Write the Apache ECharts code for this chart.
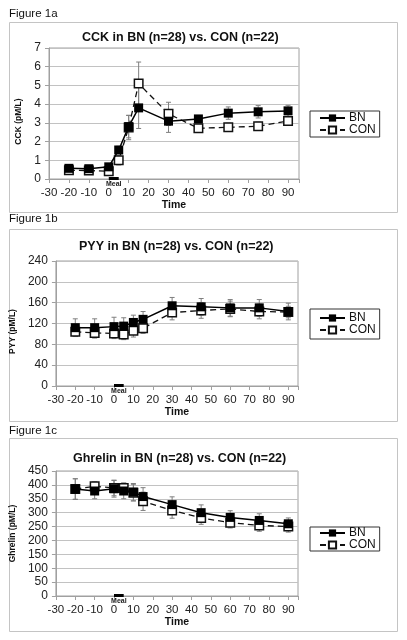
<!DOCTYPE html>
<html><head><meta charset="utf-8">
<script src="https://cdn.jsdelivr.net/npm/echarts@6/dist/echarts.min.js"></script>
<style>html,body{margin:0;padding:0;background:#fff}#c{width:407px;height:640px}</style>
</head><body><div id="c"></div>
<script>
// ---- data ----
const times = [-20, -10, 0, 5, 10, 15, 30, 45, 60, 75, 90];
const seriesNames = ['BN', 'CON'];
const xTicks = [-30, -20, -10, 0, 10, 20, 30, 40, 50, 60, 70, 80, 90];
const mealWindow = [0, 5];
const mealLabel = 'Meal';
const xName = 'Time';

const figureLabels = ['Figure 1a', 'Figure 1b', 'Figure 1c'];
const titles = ['CCK in BN (n=28) vs. CON (n=22)', 'PYY in BN (n=28) vs. CON (n=22)', 'Ghrelin in BN (n=28) vs. CON (n=22)'];
const yNames = ['CCK (pM/L)', 'PYY (pM/L)', 'Ghrelin (pM/L)'];
const yMaxes = [7, 240, 450];
const yIntervals = [1, 40, 50];

const cckBN     = [0.57, 0.55, 0.65, 1.55, 2.80, 3.80, 3.09, 3.21, 3.52, 3.59, 3.64];
const cckBNerr  = [0.10, 0.10, 0.12, 0.20, 0.60, 1.10, 0.60, 0.18, 0.33, 0.33, 0.30];
const cckCON    = [0.47, 0.45, 0.42, 1.00, 2.75, 5.10, 3.48, 2.71, 2.76, 2.82, 3.10];
const cckCONerr = [0.08, 0.08, 0.08, 0.25, 0.65, 1.15, 0.62, 0.20, 0.22, 0.22, 0.20];

const pyyBN     = [112, 112, 114, 115, 122, 128, 154, 152, 150, 150, 143];
const pyyBNerr  = [17, 17, 18, 16, 14, 15, 16, 16, 16, 16, 16];
const pyyCON    = [104, 102, 101, 99, 106, 111, 141, 145, 148, 143, 142];
const pyyCONerr = [9, 10, 10, 10, 12, 10, 14, 15, 15, 14, 11];

const ghrBN     = [385, 378, 386, 378, 374, 358, 329, 300, 283, 272, 260];
const ghrBNerr  = [37, 28, 30, 28, 31, 32, 28, 28, 24, 24, 21];
const ghrCON    = [385, 395, 389, 389, 372, 341, 308, 281, 264, 254, 250];
const ghrCONerr = [37, 16, 28, 18, 30, 33, 28, 23, 19, 21, 20];

const panelData = [
  [cckBN, cckBNerr, cckCON, cckCONerr],
  [pyyBN, pyyBNerr, pyyCON, pyyCONerr],
  [ghrBN, ghrBNerr, ghrCON, ghrCONerr]
];

// ---- layout (styles only) ----
const layout = [
  {figY: 15, box: [9, 22, 388, 190], titleLeft: 82, titleTop: 31, grid: {left: 49, top: 48, width: 250, height: 131}, xMax: 95.5, nameGap: 26, legendTop: 111, legendPad: [1, 4, 1, 9], lh: 11},
  {figY: 220, box: [9, 229, 388, 192], titleLeft: 79, titleTop: 240, grid: {left: 52, top: 261, width: 246, height: 125}, xMax: 95, nameGap: 28, legendTop: 309, legendPad: [3, 4, 3, 9], lh: 11},
  {figY: 432, box: [9, 438, 388, 193], titleLeft: 73, titleTop: 452, grid: {left: 51, top: 471, width: 247, height: 125}, xMax: 95, nameGap: 26, legendTop: 527, legendPad: [0, 4, 0, 9], lh: 10}
];

const FONT = '"Liberation Sans", Arial, sans-serif';
const GRID_GRAY = '#c2c2c2';
const AXIS_GRAY = '#a0a0a0';

function errItem(params, api) {
  const x = api.value(0), lo = api.value(1), hi = api.value(2);
  const a = api.coord([x, lo]), b = api.coord([x, hi]);
  const w = 2.5;
  const st = {stroke: '#7f7f7f', lineWidth: 1};
  return {type: 'group', children: [
    {type: 'line', shape: {x1: a[0], y1: a[1], x2: b[0], y2: b[1]}, style: st},
    {type: 'line', shape: {x1: a[0] - w, y1: a[1], x2: a[0] + w, y2: a[1]}, style: st},
    {type: 'line', shape: {x1: b[0] - w, y1: b[1], x2: b[0] + w, y2: b[1]}, style: st}
  ]};
}

function mealItem(params, api) {
  const a = api.coord([api.value(0), 0]), b = api.coord([api.value(1), 0]);
  return {type: 'group', children: [
    {type: 'rect', shape: {x: a[0], y: a[1] - 2, width: b[0] - a[0], height: 3}, style: {fill: '#000'}},
    {type: 'text', style: {text: mealLabel, x: (a[0] + b[0]) / 2, y: a[1] + 1.5, align: 'center', verticalAlign: 'top', font: 'bold 7px ' + FONT, fill: '#222'}}
  ]};
}

const option = {
  animation: false,
  backgroundColor: '#fff',
  textStyle: {fontFamily: FONT},
  title: [], legend: [], grid: [], xAxis: [], yAxis: [], series: [], graphic: []
};

layout.forEach((L, i) => {
  const [bn, bnErr, con, conErr] = panelData[i];
  option.graphic.push({type: 'rect', shape: {x: L.box[0] + 0.5, y: L.box[1] + 0.5, width: L.box[2], height: L.box[3]}, style: {fill: 'none', stroke: '#c4c4c4', lineWidth: 1}, silent: true});
  option.graphic.push({type: 'text', left: 9, top: L.figY - 7, style: {text: figureLabels[i], font: '11.5px ' + FONT, fill: '#111'}});
  option.title.push({text: titles[i], left: L.titleLeft, top: L.titleTop, padding: 0, textStyle: {fontSize: 12.5, fontWeight: 'bold', color: '#111', fontFamily: FONT}});
  option.legend.push({
    data: seriesNames, orient: 'vertical', left: 310, top: L.legendTop, padding: L.legendPad,
    itemGap: 0, itemWidth: 25, itemHeight: 9, borderColor: '#333', borderWidth: 1,
    textStyle: {fontSize: 12, color: '#111', lineHeight: L.lh, fontFamily: FONT, padding: [0, 0, 0, -1]}
  });
  option.grid.push(Object.assign({show: true, borderColor: AXIS_GRAY, borderWidth: 1, backgroundColor: 'transparent'}, L.grid));
  option.xAxis.push({
    type: 'value', gridIndex: i, min: xTicks[0], max: L.xMax, interval: 10,
    name: xName, nameLocation: 'middle', nameGap: 19,
    nameTextStyle: {fontWeight: 'bold', fontSize: 10.5, color: '#111'},
    axisLine: {show: true, onZero: false, lineStyle: {color: AXIS_GRAY}},
    axisTick: {show: true, length: 4, lineStyle: {color: AXIS_GRAY}},
    splitLine: {show: false},
    axisLabel: {fontSize: 11.5, color: '#222', margin: 8, showMaxLabel: true,
      formatter: v => (xTicks.indexOf(v) >= 0 ? String(v) : '')}
  });
  option.yAxis.push({
    type: 'value', gridIndex: i, min: 0, max: yMaxes[i], interval: yIntervals[i],
    name: yNames[i], nameLocation: 'middle', nameGap: L.nameGap,
    nameTextStyle: {fontWeight: 'bold', fontSize: 8.5, color: '#111', padding: [0, i === 2 ? 0 : 16, 0, 0]},
    axisLine: {show: true, onZero: false, lineStyle: {color: AXIS_GRAY}},
    axisTick: {show: true, length: 4, lineStyle: {color: AXIS_GRAY}},
    splitLine: {show: true, lineStyle: {color: GRID_GRAY, width: 1}},
    axisLabel: {fontSize: 12, color: '#222', margin: 8}
  });
  option.series.push({
    type: 'custom', name: 'BN err ' + i, xAxisIndex: i, yAxisIndex: i, z: 1,
    renderItem: errItem, encode: {x: 0, y: [1, 2]},
    data: times.map((t, k) => [t, bn[k] - bnErr[k], bn[k] + bnErr[k]])
  });
  option.series.push({
    type: 'custom', name: 'CON err ' + i, xAxisIndex: i, yAxisIndex: i, z: 1,
    renderItem: errItem, encode: {x: 0, y: [1, 2]},
    data: times.map((t, k) => [t, con[k] - conErr[k], con[k] + conErr[k]])
  });
  option.series.push({
    type: 'line', name: seriesNames[1], xAxisIndex: i, yAxisIndex: i, z: 3,
    symbol: 'rect', symbolSize: 8.5,
    lineStyle: {color: '#111', width: 1.3, type: [6, 4]},
    itemStyle: {color: '#fff', borderColor: '#111', borderWidth: 1.5},
    data: times.map((t, k) => [t, con[k]])
  });
  option.series.push({
    type: 'line', name: seriesNames[0], xAxisIndex: i, yAxisIndex: i, z: 4,
    symbol: 'rect', symbolSize: 9,
    lineStyle: {color: '#000', width: 1.5},
    itemStyle: {color: '#000', borderColor: '#000', borderWidth: 0},
    data: times.map((t, k) => [t, bn[k]])
  });
  option.series.push({
    type: 'custom', name: 'meal ' + i, xAxisIndex: i, yAxisIndex: i, z: 5, clip: false,
    renderItem: mealItem, encode: {x: [0, 1]},
    data: [[mealWindow[0], mealWindow[1]]]
  });
});

const chart = echarts.init(document.getElementById('c'), null, {renderer: 'canvas'});
chart.setOption(option);
</script></body></html>
